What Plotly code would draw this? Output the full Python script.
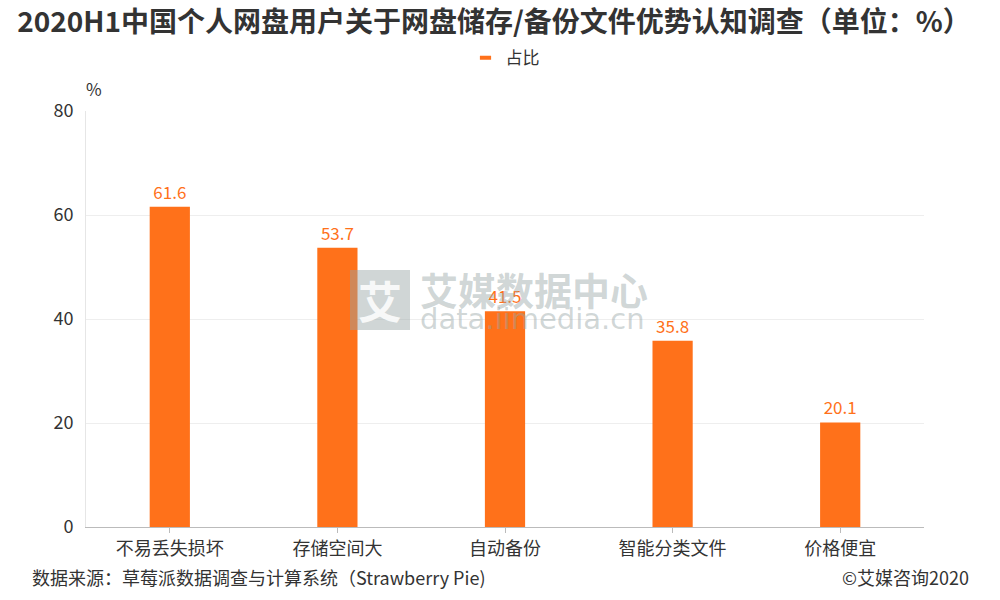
import plotly.graph_objects as go

categories = ["不易丢失损坏", "存储空间大", "自动备份", "智能分类文件", "价格便宜"]
values = [61.6, 53.7, 41.5, 35.8, 20.1]
series_name = "占比"
y_ticks = [0, 20, 40, 60, 80]

FONT = "Noto Sans CJK SC"
ORANGE = "#ff711a"

fig = go.Figure()
fig.add_trace(go.Bar(
    x=categories, y=values, name=series_name,
    marker=dict(color=ORANGE, line=dict(width=0)),
    text=[f"{v:.1f}" for v in values], textposition="outside",
    textfont=dict(color=ORANGE, size=17, family=FONT),
    cliponaxis=False,
    showlegend=False,
))
# legend entry (short horizontal dash marker like the reference)
fig.add_trace(go.Scatter(
    x=[None], y=[None], mode="markers", name=series_name,
    marker=dict(symbol="line-ew", size=8, color=ORANGE, line=dict(width=4, color=ORANGE)),
    showlegend=True,
))

fig.update_layout(
    width=1000, height=600,
    paper_bgcolor="white", plot_bgcolor="white",
    margin=dict(l=86, r=76, t=111, b=73),
    bargap=0.76,
    font=dict(family=FONT, color="#333333"),
    title=dict(text="<b>2020H1中国个人网盘用户关于网盘储存/备份文件优势认知调查（单位：%）</b>",
               x=0.494, xanchor="center", y=0.963, yanchor="middle",
               font=dict(size=28, color="#333333", family=FONT)),
    legend=dict(orientation="h", x=0.5, xanchor="center", y=1.127, yanchor="middle",
                font=dict(size=17, color="#333333", family=FONT),
                itemwidth=30, bgcolor="rgba(0,0,0,0)"),
    xaxis=dict(showline=True, linecolor="#bbbbbb", linewidth=1,
               ticks="outside", ticklen=5, tickcolor="#bbbbbb",
               tickfont=dict(size=18, color="#333333", family=FONT),
               showgrid=False),
    yaxis=dict(range=[0, 80], tickvals=y_ticks, showgrid=True, gridcolor="#eeeeee",
               showline=True, linecolor="#e6e6e6", linewidth=1,
               zeroline=False, ticks="", ticklabelstandoff=8,
               tickfont=dict(size=18, color="#333333", family=FONT)),
)

# y-axis unit
fig.add_annotation(text="%", xref="paper", yref="paper", x=(94-86)/838, y=(527-88)/416,
                   xanchor="center", yanchor="middle", showarrow=False,
                   font=dict(size=17, color="#333333", family=FONT))
# footer
fig.add_annotation(text="数据来源：草莓派数据调查与计算系统（Strawberry Pie)", xref="paper", yref="paper",
                   x=(30-86)/838, y=(527-577)/416, xanchor="left", yanchor="middle", showarrow=False,
                   font=dict(size=18, color="#333333", family=FONT))
fig.add_annotation(text="©艾媒咨询2020", xref="paper", yref="paper",
                   x=(971-86)/838, y=(527-577)/416, xanchor="right", yanchor="middle", showarrow=False,
                   font=dict(size=18, color="#333333", family=FONT))

# watermark
fig.add_shape(type="rect", xref="paper", yref="paper", x0=(350-86)/838, x1=(410-86)/838,
              y0=(527-330)/416, y1=(527-270)/416, fillcolor="rgba(150,165,165,0.45)",
              line=dict(width=0), layer="above")
fig.add_annotation(text="<b>艾</b>", xref="paper", yref="paper", x=(380-86)/838, y=(527-300)/416,
                   showarrow=False, xanchor="center", yanchor="middle",
                   font=dict(size=44, color="rgba(255,255,255,0.85)", family=FONT))
fig.add_annotation(text="<b>艾媒数据中心</b>", xref="paper", yref="paper", x=(418-86)/838, y=(527-288)/416,
                   showarrow=False, xanchor="left", yanchor="middle",
                   font=dict(size=38, color="rgba(150,165,165,0.45)", family=FONT))
fig.add_annotation(text="data.iimedia.cn", xref="paper", yref="paper", x=(418-86)/838, y=(527-319)/416,
                   showarrow=False, xanchor="left", yanchor="middle",
                   font=dict(size=29, color="rgba(150,165,165,0.45)", family="DejaVu Sans"))

fig.write_html("out.html", config={"displayModeBar": False},
               post_script="document.body.style.margin='0px';")
